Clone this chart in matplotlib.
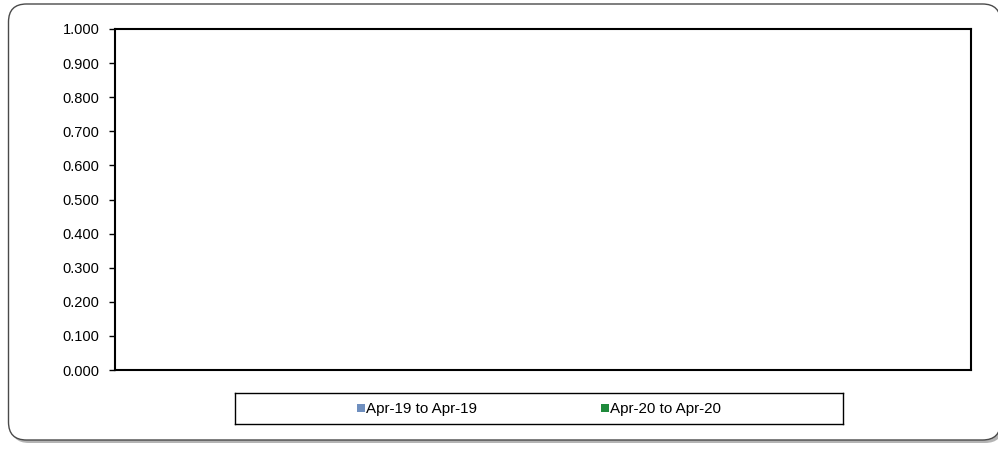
import matplotlib.pyplot as plt
from matplotlib.patches import FancyBboxPatch, Rectangle

# Chart data: the source chart has no values, only the two series
categories = []
series_names = ["Apr-19 to Apr-19", "Apr-20 to Apr-20"]
series_values = [[], []]
series_colors = ["#6f8fbf", "#1f8a3c"]
y_ticks = [0.0, 0.1, 0.2, 0.3, 0.4, 0.5, 0.6, 0.7, 0.8, 0.9, 1.0]

plt.rcParams['font.family'] = ['Liberation Sans', 'DejaVu Sans']

W, H = 998, 449
fig = plt.figure(figsize=(W / 100, H / 100), dpi=100)

# outer rounded frame with a soft shadow
shadow = FancyBboxPatch((11 / W, 6 / H), 992 / W, (443 - 8) / H,
                        boxstyle="round,pad=0,rounding_size=0.018",
                        transform=fig.transFigure, facecolor="#b4b4b4",
                        edgecolor="none", mutation_aspect=W / H, zorder=0)
frame = FancyBboxPatch((8.5 / W, 9 / H), 992 / W, (445 - 9) / H,
                       boxstyle="round,pad=0,rounding_size=0.018",
                       transform=fig.transFigure, facecolor="white",
                       edgecolor="#4a4a4a", linewidth=1.0,
                       mutation_aspect=W / H, zorder=1)
fig.patches.extend([shadow, frame])

ax = fig.add_axes([115 / W, 1 - 370 / H, (971 - 115) / W, (370 - 29) / H])
ax.set_zorder(2)
ax.patch.set_alpha(0)

n = len(series_names)
width = 0.8 / n
for i, (name, vals) in enumerate(zip(series_names, series_values)):
    x = [j + (i - (n - 1) / 2) * width for j in range(len(categories))]
    ax.bar(x, vals, width=width, color=series_colors[i], label=name)

ax.set_ylim(0, 1.0)
ax.set_xlim(0, 1)
ax.set_yticks(y_ticks)
ax.set_yticklabels([f"{v:.3f}" for v in y_ticks])
ax.set_xticks([])
ax.tick_params(axis='y', direction='out', length=4.3, width=1, labelsize=10.5, pad=7)
for s in ax.spines.values():
    s.set_linewidth(1.5)
    s.set_color("black")

# legend box
ax_leg = fig.add_axes([235 / W, 1 - 424 / H, (843 - 235) / W, (424 - 393) / H])
ax_leg.set_zorder(2)
ax_leg.set_xticks([])
ax_leg.set_yticks([])
for s in ax_leg.spines.values():
    s.set_linewidth(1.0)
    s.set_color("black")
ax_leg.set_xlim(235, 843)
ax_leg.set_ylim(0, 1)
item_x = [357, 601]
for xp, name, col in zip(item_x, series_names, series_colors):
    ax_leg.add_patch(Rectangle((xp, 0.38), 8, 0.26, facecolor=col, edgecolor="none"))
    ax_leg.text(xp + 9, 0.5, name, va="center", ha="left", fontsize=10.9)

fig.savefig("out.png", dpi=100)
